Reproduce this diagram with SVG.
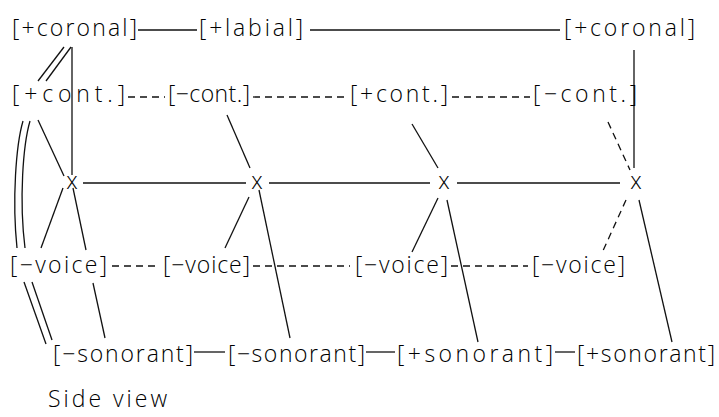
<svg xmlns="http://www.w3.org/2000/svg" width="719" height="417" viewBox="0 0 719 417">
<style>
text{font-family:"Open Sans","Liberation Sans",sans-serif;font-size:23px;font-weight:300;fill:#000}
.x{text-anchor:middle}
line,path{stroke:#111;stroke-width:1.3;fill:none}
.d{stroke-dasharray:7 5}
</style>
<rect width="719" height="417" fill="#fff"/>
<g id="connectors">
<line x1="138" y1="30" x2="197" y2="30"/>
<line x1="310" y1="30" x2="560" y2="30"/>
<line class="d" x1="128" y1="97" x2="165" y2="97"/>
<line class="d" x1="253" y1="97" x2="347" y2="97"/>
<line class="d" x1="452" y1="97" x2="530" y2="97"/>
<line x1="83" y1="183" x2="246" y2="183"/>
<line x1="269" y1="183" x2="430" y2="183"/>
<line x1="457" y1="183" x2="620" y2="183"/>
<line class="d" x1="112" y1="266" x2="160" y2="266"/>
<line class="d" x1="253" y1="266" x2="350" y2="266"/>
<line class="d" x1="451" y1="266" x2="528" y2="266"/>
<line x1="194" y1="352" x2="225" y2="352"/>
<line x1="366" y1="352" x2="395" y2="352"/>
<line x1="555" y1="352" x2="575" y2="352"/>
<line x1="72" y1="47" x2="72" y2="175"/>
<line x1="64" y1="47" x2="38" y2="81"/>
<line x1="71" y1="47" x2="46" y2="81"/>
<path d="M23,121 C16,145 12,200 17,248"/>
<path d="M30,121 C23,145 19,200 25,248"/>
<line x1="24" y1="282" x2="46" y2="344"/>
<line x1="32" y1="282" x2="52" y2="340"/>
<line x1="38" y1="120" x2="64" y2="176"/>
<line x1="63" y1="188" x2="41" y2="248"/>
<line x1="73" y1="188" x2="86" y2="250"/>
<line x1="93" y1="283" x2="105" y2="338"/>
<line x1="227" y1="115" x2="250" y2="168"/>
<line x1="249" y1="197" x2="225" y2="248"/>
<line x1="259" y1="190" x2="290" y2="338"/>
<line x1="412" y1="124" x2="438" y2="168"/>
<line x1="438" y1="198" x2="412" y2="252"/>
<line x1="447" y1="200" x2="478" y2="342"/>
<line x1="634" y1="50" x2="634" y2="168"/>
<line class="d" x1="608" y1="122" x2="630" y2="170"/>
<line class="d" x1="626" y1="200" x2="602" y2="253"/>
<line x1="639" y1="200" x2="672" y2="342"/>
</g>
<g id="coronal1"><text x="12" y="36" textLength="125" lengthAdjust="spacing">[+coronal]</text></g>
<g id="labial"><text x="199" y="36" textLength="104" lengthAdjust="spacing">[+labial]</text></g>
<g id="coronal2"><text x="564" y="36" textLength="131" lengthAdjust="spacing">[+coronal]</text></g>
<g id="cont1"><text x="12" y="102" textLength="113" lengthAdjust="spacing">[+cont.]</text></g>
<g id="cont2"><text x="168" y="102" textLength="82" lengthAdjust="spacing">[−cont.]</text></g>
<g id="cont3"><text x="350" y="102" textLength="98" lengthAdjust="spacing">[+cont.]</text></g>
<g id="cont4"><text x="533" y="102" textLength="104" lengthAdjust="spacing">[−cont.]</text></g>
<g id="x1"><text class="x" x="72" y="189">x</text></g>
<g id="x2"><text class="x" x="257" y="189">x</text></g>
<g id="x3"><text class="x" x="444" y="189">x</text></g>
<g id="x4"><text class="x" x="636" y="189">x</text></g>
<g id="voice1"><text x="10" y="273" textLength="97" lengthAdjust="spacing">[−voice]</text></g>
<g id="voice2"><text x="163" y="273" textLength="87" lengthAdjust="spacing">[−voice]</text></g>
<g id="voice3"><text x="355" y="273" textLength="93" lengthAdjust="spacing">[−voice]</text></g>
<g id="voice4"><text x="532" y="273" textLength="93" lengthAdjust="spacing">[−voice]</text></g>
<g id="son1"><text x="53" y="362" textLength="140" lengthAdjust="spacing">[−sonorant]</text></g>
<g id="son2"><text x="228" y="362" textLength="137" lengthAdjust="spacing">[−sonorant]</text></g>
<g id="son3"><text x="397" y="362" textLength="156" lengthAdjust="spacing">[+sonorant]</text></g>
<g id="son4"><text x="577" y="362" textLength="138" lengthAdjust="spacing">[+sonorant]</text></g>
<g id="caption"><text x="48" y="407" textLength="119" lengthAdjust="spacing">Side view</text></g>
</svg>
